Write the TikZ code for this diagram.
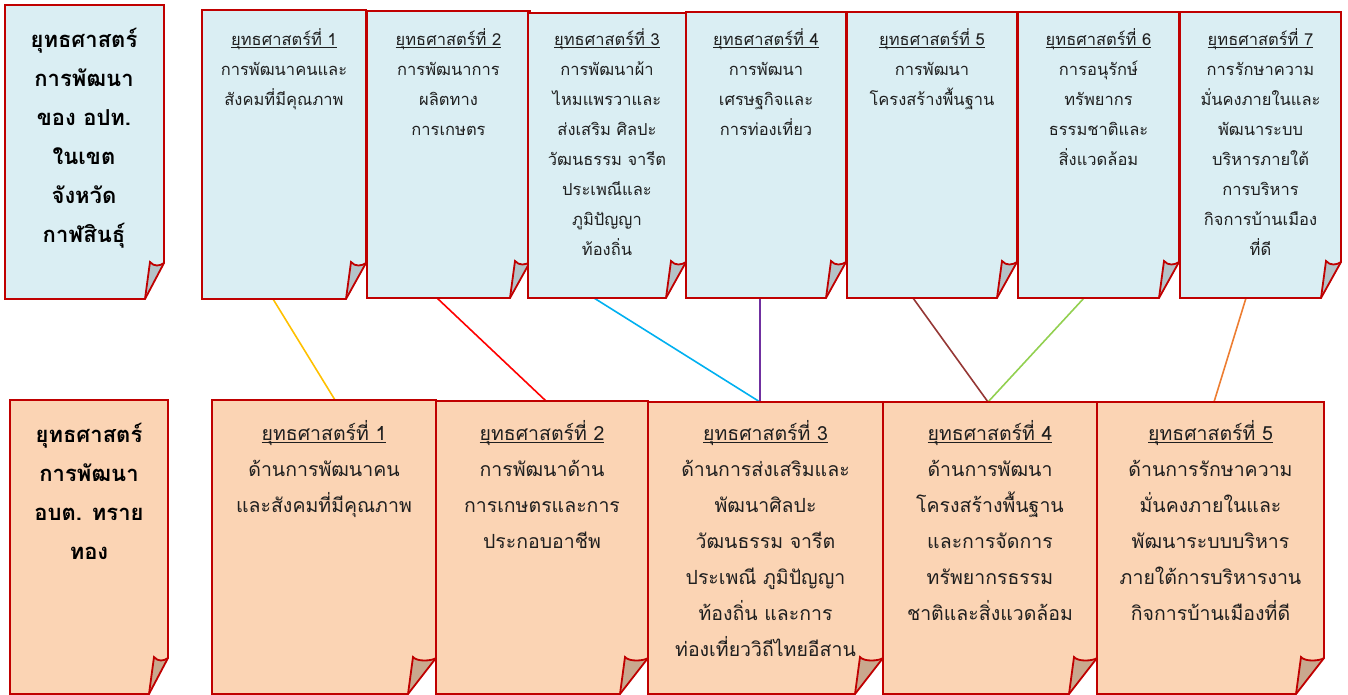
\documentclass[tikz,border=0pt]{standalone}
\usepackage{fontspec}
\newfontfamily\thai[Script=Thai]{Loma}
\usetikzlibrary{calc}
\definecolor{edgered}{HTML}{C00000}
\definecolor{topbg}{HTML}{DAEEF3}
\definecolor{topfold}{HTML}{B4C3C8}
\definecolor{botbg}{HTML}{FBD4B4}
\definecolor{botfold}{HTML}{C9A88E}
\definecolor{cyellow}{HTML}{FFC000}
\definecolor{cred}{HTML}{FF0000}
\definecolor{cblue}{HTML}{00B0F0}
\definecolor{cpurple}{HTML}{7030A0}
\definecolor{cbrown}{HTML}{953735}
\definecolor{cgreen}{HTML}{92D050}
\definecolor{corange}{HTML}{ED7D31}
\pgfdeclarelayer{back}
\pgfsetlayers{back,main}
\newcommand\thaiul[1]{\setbox0\hbox{#1}\rlap{\rule[-2.2pt]{\wd0}{0.7pt}}\box0}
% name, x1, y1, x2, y2, bg, fold colour, fold width
\newcommand\paperbox[8]{%
  \node[anchor=north west, inner sep=0pt, outer sep=0pt,
        minimum width=#4pt-#2pt, minimum height=#5pt-#3pt] (#1) at (#2,#3) {};
  \path[fill=#6] (#1.north west) -- (#1.north east) -- ([yshift=36pt]#1.south east)
     -- ([xshift=-#8pt]#1.south east) -- (#1.south west) -- cycle;
  \path[fill=#7] ([xshift=-#8pt]#1.south east) -- ([xshift={-#8pt+5pt},yshift=37pt]#1.south east)
     .. controls ([xshift={-#8pt+9pt},yshift=32pt]#1.south east) and ([xshift=-4pt,yshift=33pt]#1.south east)
     .. ([yshift=36pt]#1.south east) -- cycle;
  \draw[paperline] (#1.north west) -- (#1.north east) -- ([yshift=36pt]#1.south east)
     -- ([xshift=-#8pt]#1.south east) -- (#1.south west) -- cycle;
  \draw[paperline] ([xshift=-#8pt]#1.south east) -- ([xshift={-#8pt+5pt},yshift=37pt]#1.south east)
     .. controls ([xshift={-#8pt+9pt},yshift=32pt]#1.south east) and ([xshift=-4pt,yshift=33pt]#1.south east)
     .. ([yshift=36pt]#1.south east);
}
\begin{document}
\begin{tikzpicture}[x=1pt,y=-1pt,
  paperline/.style={draw=edgered, line width=1.8pt, line join=miter},
  conn/.style={line width=1.6pt},
  txtT/.style={font=\thai\fontsize{16.5}{30}\selectfont, align=center, inner sep=0pt, anchor=north, text=black!88},
  txtB/.style={font=\thai\fontsize{19.5}{36}\selectfont, align=center, inner sep=0pt, anchor=north, text=black!88},
  txtH/.style={font=\thai\bfseries\fontsize{22}{39}\selectfont, align=center, inner sep=0pt, anchor=north, text=black}]
\useasboundingbox (0,0) rectangle (1348,695);

\paperbox{ta}{5}{5}{164}{299}{topbg}{topfold}{19}
\paperbox{t1}{202}{10}{366}{299}{topbg}{topfold}{20}
\paperbox{t2}{367}{11}{530}{298}{topbg}{topfold}{20}
\paperbox{t3}{528}{13}{686}{298}{topbg}{topfold}{20}
\paperbox{t4}{686}{12}{846}{298}{topbg}{topfold}{20}
\paperbox{t5}{847}{12}{1017}{298}{topbg}{topfold}{20}
\paperbox{t6}{1018}{12}{1179}{298}{topbg}{topfold}{20}
\paperbox{t7}{1180}{12}{1341}{298}{topbg}{topfold}{20}

\paperbox{bb}{10}{400}{168}{694}{botbg}{botfold}{19}
\paperbox{b1}{212}{400}{436}{694}{botbg}{botfold}{28}
\paperbox{b2}{436}{401}{648}{694}{botbg}{botfold}{28}
\paperbox{b3}{648}{402}{883}{694}{botbg}{botfold}{28}
\paperbox{b4}{883}{402}{1097}{694}{botbg}{botfold}{28}
\paperbox{b5}{1097}{402}{1324}{694}{botbg}{botfold}{28}

% texts
\node[txtH] (tat) at (84,22) {\rule{0pt}{25pt}ยุทธศาสตร์\\การพัฒนา\\ของ อปท.\\ในเขต\\จังหวัด\\กาฬสินธุ์};
\node[txtT] (t1t) at (284,20) {\rule{0pt}{25pt}\thaiul{ยุทธศาสตร์ที่ 1}\\การพัฒนาคนและ\\สังคมที่มีคุณภาพ};
\node[txtT] (t2t) at (448.5,20) {\rule{0pt}{25pt}\thaiul{ยุทธศาสตร์ที่ 2}\\การพัฒนาการ\\ผลิตทาง\\การเกษตร};
\node[txtT] (t3t) at (607,20) {\rule{0pt}{25pt}\thaiul{ยุทธศาสตร์ที่ 3}\\การพัฒนาผ้า\\ไหมแพรวาและ\\ส่งเสริม ศิลปะ\\วัฒนธรรม จารีต\\ประเพณีและ\\ภูมิปัญญา\\ท้องถิ่น};
\node[txtT] (t4t) at (766,20) {\rule{0pt}{25pt}\thaiul{ยุทธศาสตร์ที่ 4}\\การพัฒนา\\เศรษฐกิจและ\\การท่องเที่ยว};
\node[txtT] (t5t) at (932,20) {\rule{0pt}{25pt}\thaiul{ยุทธศาสตร์ที่ 5}\\การพัฒนา\\โครงสร้างพื้นฐาน};
\node[txtT] (t6t) at (1098.5,20) {\rule{0pt}{25pt}\thaiul{ยุทธศาสตร์ที่ 6}\\การอนุรักษ์\\ทรัพยากร\\ธรรมชาติและ\\สิ่งแวดล้อม};
\node[txtT] (t7t) at (1260.5,20) {\rule{0pt}{25pt}\thaiul{ยุทธศาสตร์ที่ 7}\\การรักษาความ\\มั่นคงภายในและ\\พัฒนาระบบ\\บริหารภายใต้\\การบริหาร\\กิจการบ้านเมือง\\ที่ดี};

\node[txtH] (bbt) at (89,417) {\rule{0pt}{25pt}ยุทธศาสตร์\\การพัฒนา\\อบต. ทราย\\ทอง};
\node[txtB] (b1t) at (324,412) {\rule{0pt}{28pt}\thaiul{ยุทธศาสตร์ที่ 1}\\ด้านการพัฒนาคน\\และสังคมที่มีคุณภาพ};
\node[txtB] (b2t) at (542,412) {\rule{0pt}{28pt}\thaiul{ยุทธศาสตร์ที่ 2}\\การพัฒนาด้าน\\การเกษตรและการ\\ประกอบอาชีพ};
\node[txtB] (b3t) at (765.5,412) {\rule{0pt}{28pt}\thaiul{ยุทธศาสตร์ที่ 3}\\ด้านการส่งเสริมและ\\พัฒนาศิลปะ\\วัฒนธรรม จารีต\\ประเพณี ภูมิปัญญา\\ท้องถิ่น และการ\\ท่องเที่ยววิถีไทยอีสาน};
\node[txtB] (b4t) at (990,412) {\rule{0pt}{28pt}\thaiul{ยุทธศาสตร์ที่ 4}\\ด้านการพัฒนา\\โครงสร้างพื้นฐาน\\และการจัดการ\\ทรัพยากรธรรม\\ชาติและสิ่งแวดล้อม};
\node[txtB] (b5t) at (1210.5,412) {\rule{0pt}{28pt}\thaiul{ยุทธศาสตร์ที่ 5}\\ด้านการรักษาความ\\มั่นคงภายในและ\\พัฒนาระบบบริหาร\\ภายใต้การบริหารงาน\\กิจการบ้านเมืองที่ดี};

% connectors
\begin{pgfonlayer}{back}
\draw[conn, cyellow] ([xshift=-11pt]t1.south) -- ([xshift=11pt]b1.north);
\draw[conn, cred] ([xshift=-11.5pt]t2.south) -- ([xshift=4pt]b2.north);
\draw[conn, cblue] ([xshift=-13pt]t3.south) -- ([xshift=-5.5pt]b3.north);
\draw[conn, cpurple] ([xshift=-6pt]t4.south) -- ([xshift=-5.5pt]b3.north);
\draw[conn, cbrown] ([xshift=-19pt]t5.south) -- ([xshift=-2pt]b4.north);
\draw[conn, cgreen] ([xshift=-14.5pt]t6.south) -- ([xshift=-2pt]b4.north);
\draw[conn, corange] ([xshift=-14.5pt]t7.south) -- ([xshift=3.5pt]b5.north);
\end{pgfonlayer}
\end{tikzpicture}
\end{document}
